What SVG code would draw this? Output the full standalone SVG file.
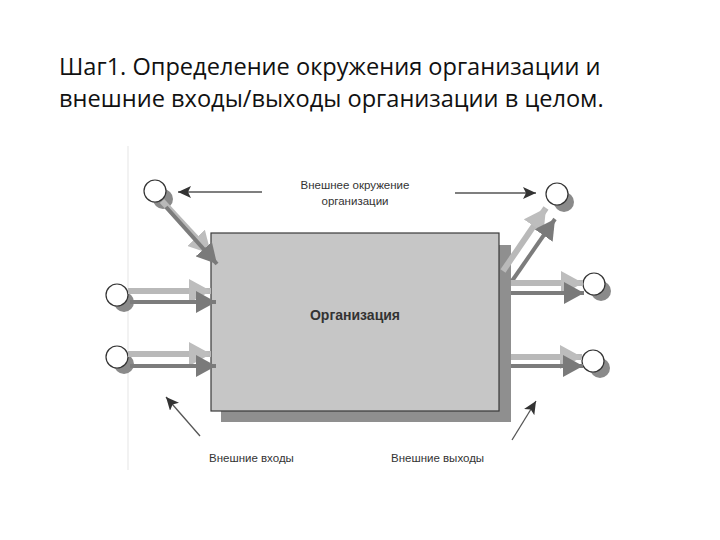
<svg xmlns="http://www.w3.org/2000/svg" width="720" height="540" viewBox="0 0 720 540">
<style>
.title{font-family:"Open Sans","Liberation Sans",sans-serif;font-size:23.6px;fill:#111}
.lbl{font-family:"Liberation Sans",Arial,sans-serif;font-size:11.5px;fill:#333}
.org{font-family:"Liberation Sans",Arial,sans-serif;font-size:14px;font-weight:bold;fill:#333}
.lt{stroke:#b9b9b9;stroke-width:6;fill:none}
.dk{stroke:#7c7c7c;stroke-width:4;fill:none}
.pt{stroke:#555;stroke-width:1.3;fill:none}
.circ{fill:#fff;stroke:#333;stroke-width:1.2}
.csh{fill:#8a8a8a}
</style>
<defs>
<marker id="mLt" markerUnits="userSpaceOnUse" markerWidth="26" markerHeight="24" refX="22" refY="12" orient="auto"><path d="M0,0 L22,12 L0,24 Z" fill="#bdbdbd"/></marker>
<marker id="mDk" markerUnits="userSpaceOnUse" markerWidth="24" markerHeight="22" refX="20" refY="11" orient="auto"><path d="M0,0 L20,11 L0,22 Z" fill="#7a7a7a"/></marker>
<marker id="mPt" markerUnits="userSpaceOnUse" markerWidth="14" markerHeight="12" refX="13" refY="6" orient="auto"><path d="M0,0 L13,6 L0,12 L3,6 Z" fill="#333"/></marker>
</defs>
<rect width="720" height="540" fill="#fff"/>
<text class="title" x="59" y="75">Шаг1. Определение окружения организации и</text>
<text class="title" x="59" y="107">внешние входы/выходы организации в целом.</text>
<line x1="128" y1="146" x2="128" y2="470" stroke="#eeeeee" stroke-width="1.5"/>
<g id="organization">
<rect x="221" y="245" width="290" height="177" fill="#8f8f8f"/>
<rect x="211" y="233" width="288" height="178" fill="#c6c6c6" stroke="#3a3a3a" stroke-width="1.2"/>
<text class="org" x="355" y="320" text-anchor="middle">Организация</text>
</g>
<g id="environment-label">
<text class="lbl" x="355" y="189" text-anchor="middle">Внешнее окружение</text>
<text class="lbl" x="355" y="205" text-anchor="middle">организации</text>
</g>
<g id="inputs-label"><text class="lbl" x="209" y="462">Внешние входы</text></g>
<g id="outputs-label"><text class="lbl" x="391" y="462">Внешние выходы</text></g>
<g id="c-in1"><circle class="csh" cx="163" cy="199" r="10"/><circle class="circ" cx="155" cy="191" r="11"/></g>
<g id="c-in2"><circle class="csh" cx="124" cy="302" r="10"/><circle class="circ" cx="117" cy="295" r="11"/></g>
<g id="c-in3"><circle class="csh" cx="124" cy="364" r="10"/><circle class="circ" cx="117" cy="357" r="11"/></g>
<g id="c-out1"><circle class="csh" cx="564" cy="202" r="10"/><circle class="circ" cx="557" cy="194" r="11"/></g>
<g id="c-out2"><circle class="csh" cx="601" cy="291" r="10"/><circle class="circ" cx="594" cy="284" r="11"/></g>
<g id="c-out3"><circle class="csh" cx="600" cy="368" r="10"/><circle class="circ" cx="593" cy="361" r="11"/></g>
<g id="connectors">
<line class="pt" x1="262" y1="192" x2="178" y2="192" marker-end="url(#mPt)"/>
<line class="pt" x1="455" y1="193" x2="536" y2="193" marker-end="url(#mPt)"/>
<line class="pt" x1="200" y1="436" x2="166" y2="397" marker-end="url(#mPt)"/>
<line class="pt" x1="512" y1="440" x2="536" y2="401" marker-end="url(#mPt)"/>
<line class="lt" x1="162" y1="201" x2="211" y2="254" marker-end="url(#mLt)"/>
<line class="dk" x1="166" y1="207" x2="217" y2="264" marker-end="url(#mDk)"/>
<line class="lt" x1="128" y1="291" x2="211" y2="291" marker-end="url(#mLt)"/>
<line class="dk" x1="130" y1="302" x2="216" y2="302" marker-end="url(#mDk)"/>
<line class="lt" x1="128" y1="354" x2="211" y2="354" marker-end="url(#mLt)"/>
<line class="dk" x1="130" y1="366" x2="216" y2="366" marker-end="url(#mDk)"/>
<line class="lt" x1="503" y1="271" x2="546" y2="208" marker-end="url(#mLt)"/>
<line class="dk" x1="512" y1="281" x2="555" y2="219" marker-end="url(#mDk)"/>
<line class="lt" x1="511" y1="283" x2="583" y2="283" marker-end="url(#mLt)"/>
<line class="dk" x1="511" y1="293" x2="584" y2="293" marker-end="url(#mDk)"/>
<line class="lt" x1="511" y1="357" x2="582" y2="357" marker-end="url(#mLt)"/>
<line class="dk" x1="511" y1="366" x2="583" y2="366" marker-end="url(#mDk)"/>
</g>
</svg>
